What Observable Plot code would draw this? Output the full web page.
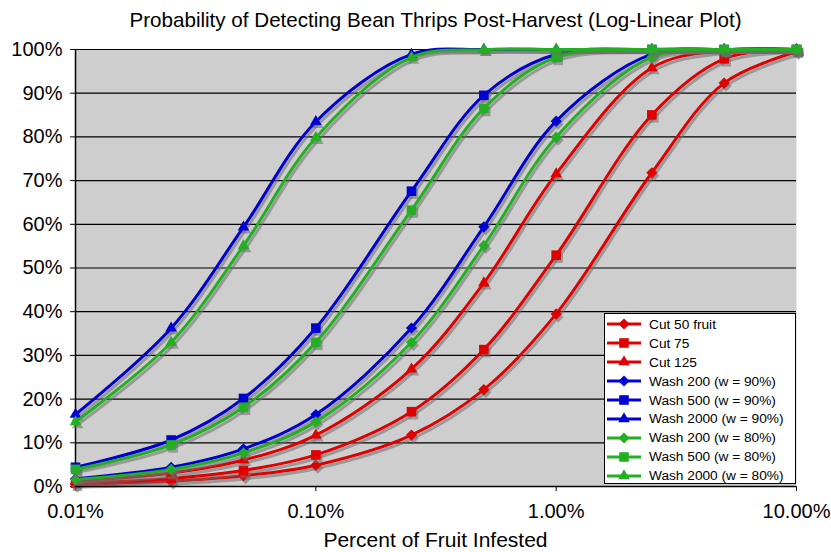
<!DOCTYPE html>
<html>
<head>
<meta charset="utf-8">
<script src="https://cdn.jsdelivr.net/npm/d3@7"></script>
<script src="https://cdn.jsdelivr.net/npm/@observablehq/plot@0.6"></script>
<style>
  html, body { margin: 0; padding: 0; background: #ffffff; }
  body { width: 831px; height: 552px; position: relative; overflow: hidden;
         font-family: "Liberation Sans", Arial, sans-serif; color: #000; }
  #title { height: 40px; line-height: 40px; text-align: center; font-size: 20.6px; white-space: nowrap; padding-left: 40px; }
  #xtitle { height: 24px; line-height: 24px; text-align: center; font-size: 21px; padding-left: 40px; }
  #legend { position: absolute; left: 604px; top: 313px; width: 192px; height: 171px;
            box-sizing: border-box; border: 1px solid #000; background: #fff; padding-top: 1px; }
  .row { display: flex; align-items: center; height: 18.9px; font-size: 13.7px; white-space: nowrap; }
  .row svg { margin-left: 2px; flex: none; }
  .row span { margin-left: 8px; }
</style>
</head>
<body>
<div id="title">Probability of Detecting Bean Thrips Post-Harvest (Log-Linear Plot)</div>
<div id="chart"></div>
<div id="xtitle">Percent of Fruit Infested</div>
<div id="legend"></div>
<script>
// ---- data (percent of fruit infested vs. detection probability, %) ----
const xPct = [0.01, 0.025, 0.05, 0.1, 0.25, 0.5, 1, 2.5, 5, 10];

const seriesNames = [
  "Cut 50 fruit", "Cut 75", "Cut 125",
  "Wash 200 (w = 90%)", "Wash 500 (w = 90%)", "Wash 2000 (w = 90%)",
  "Wash 200 (w = 80%)", "Wash 500 (w = 80%)", "Wash 2000 (w = 80%)"
];
const cut50      = [0.50, 1.24, 2.47, 4.88, 11.77, 22.17, 39.50, 71.80, 92.31, 99.48];
const cut75      = [0.75, 1.86, 3.68, 7.23, 17.12, 31.33, 52.94, 85.03, 97.87, 99.96];
const cut125     = [1.24, 3.08, 6.06, 11.75, 26.86, 46.56, 71.53, 95.78, 99.84, 100];
const wash200_90 = [1.78, 4.40, 8.61, 16.48, 36.27, 59.42, 83.60, 98.94, 99.99, 100];
const wash500_90 = [4.40, 10.64, 20.15, 36.25, 67.58, 89.52, 98.91, 100, 100, 100];
const wash2000_90= [16.48, 36.24, 59.35, 83.48, 98.89, 99.99, 100, 100, 100, 100];
const wash200_80 = [1.59, 3.92, 7.69, 14.79, 32.99, 55.14, 79.94, 98.24, 99.97, 100];
const wash500_80 = [3.92, 9.52, 18.13, 32.98, 63.25, 86.52, 98.20, 100, 100, 100];
const wash2000_80= [14.79, 32.97, 55.08, 79.83, 98.18, 99.97, 100, 100, 100, 100];
const seriesValues = [cut50, cut75, cut125, wash200_90, wash500_90, wash2000_90, wash200_80, wash500_80, wash2000_80];

const seriesColors = ["#e00000", "#e00000", "#e00000", "#0000d4", "#0000d4", "#0000d4", "#22b022", "#22b022", "#22b022"];
const seriesShapes = ["diamond", "square", "triangle", "diamond", "square", "triangle", "diamond", "square", "triangle"];

const yTicks = [0, 10, 20, 30, 40, 50, 60, 70, 80, 90, 100];
const xTicks = [0.01, 0.1, 1, 10];
const xTickLabels = ["0.01%", "0.10%", "1.00%", "10.00%"];

// ---- build table ----
const rows = [];
seriesNames.forEach((name, i) => {
  seriesValues[i].forEach((v, j) => rows.push({series: name, idx: i, x: xPct[j], y: v}));
});

const symbolMap = {diamond: d3.symbolDiamond2, square: d3.symbolSquare, triangle: d3.symbolTriangle};
const rMap = {diamond: 5.0, square: 5.4, triangle: 4.3};

const marks = [
  Plot.frame({fill: "#cecece", stroke: null}),
  Plot.ruleY(yTicks, {y: d => d, stroke: "#000", strokeWidth: 1.2}),
  Plot.ruleX([0.01], {x: d => d, stroke: "#000", strokeWidth: 1.5})
];

seriesNames.forEach((name, i) => {
  const data = rows.filter(d => d.idx === i);
  const shape = seriesShapes[i];
  marks.push(
    Plot.line(data, {x: "x", y: "y", stroke: "#6e6e6e", strokeOpacity: 0.55, strokeWidth: 3, curve: "catmull-rom", dx: 2, dy: 3}),
    Plot.dot(data, {x: "x", y: "y", symbol: () => symbolMap[shape], r: rMap[shape], fill: "#6e6e6e", fillOpacity: 0.55, stroke: "none", dx: 2, dy: 3}),
    Plot.line(data, {x: "x", y: "y", stroke: seriesColors[i], strokeWidth: 3, curve: "catmull-rom"}),
    Plot.dot(data, {x: "x", y: "y", symbol: () => symbolMap[shape], r: rMap[shape], fill: seriesColors[i], stroke: "none"})
  );
});

marks.push(Plot.ruleY([0], {y: d => d, stroke: "#000", strokeWidth: 1.5}));

const chart = Plot.plot({
  width: 831,
  height: 488,
  marginLeft: 75,
  marginRight: 35,
  marginTop: 9,
  marginBottom: 42,
  style: {fontFamily: "'Liberation Sans', Arial, sans-serif", fontSize: "20px", color: "#000", background: "#fff", overflow: "visible"},
  x: {type: "log", domain: [0.01, 10], ticks: xTicks, tickFormat: d => xTickLabels[xTicks.indexOf(d)] ?? "", tickSize: 5, tickPadding: 12, label: null},
  y: {domain: [0, 100], ticks: yTicks, tickFormat: d => d + "%", tickSize: 5, tickPadding: 8, label: null},
  marks
});
document.getElementById("chart").appendChild(chart);

// ---- legend ----
const legend = document.getElementById("legend");
seriesNames.forEach((name, i) => {
  const row = document.createElement("div");
  row.className = "row";
  const shape = seriesShapes[i];
  const r = rMap[shape];
  const path = d3.symbol(symbolMap[shape], r * r * Math.PI)();
  row.innerHTML = `<svg width="34" height="14" viewBox="0 0 34 14">
      <line x1="0" x2="34" y1="7" y2="7" stroke="${seriesColors[i]}" stroke-width="3"/>
      <path d="${path}" transform="translate(17,7)" fill="${seriesColors[i]}"/>
    </svg><span>${name}</span>`;
  legend.appendChild(row);
});
</script>
</body>
</html>
